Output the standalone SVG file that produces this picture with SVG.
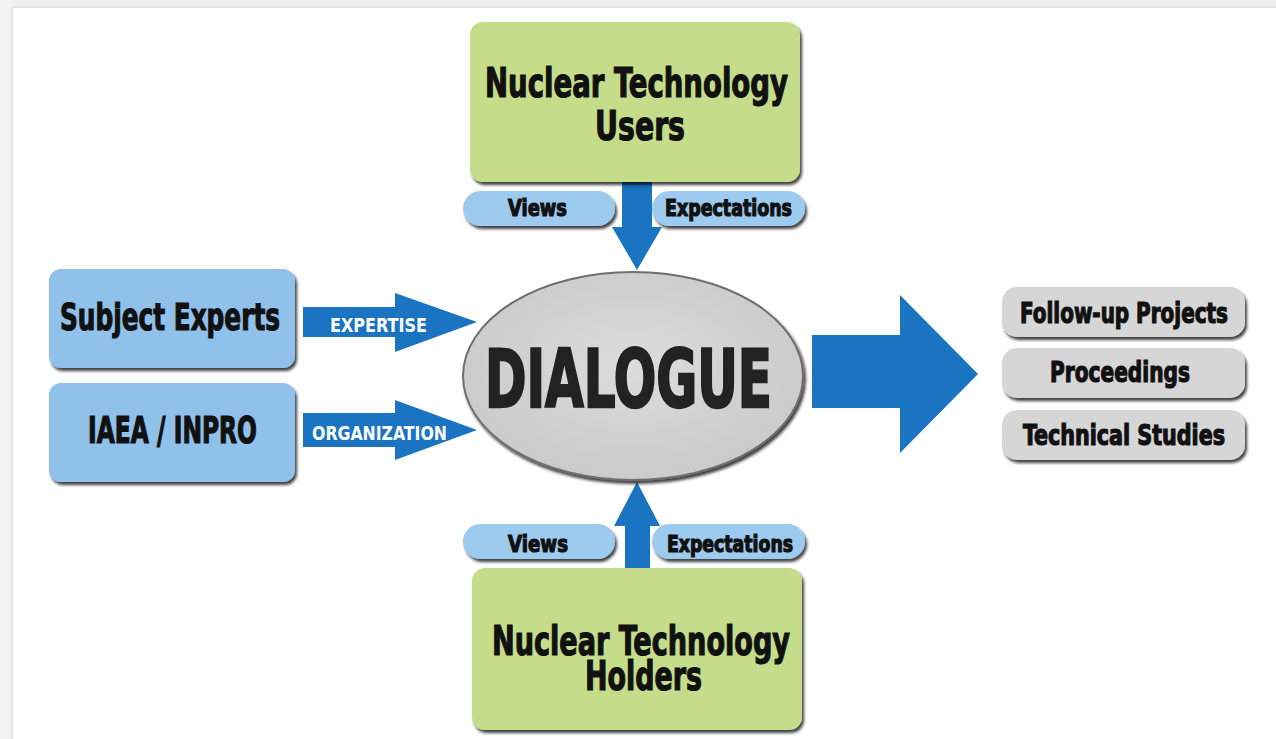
<svg xmlns="http://www.w3.org/2000/svg" width="1276" height="739" viewBox="0 0 1276 739">
  <defs>
    <filter id="shadow" x="-10%" y="-10%" width="125%" height="130%">
      <feGaussianBlur in="SourceAlpha" stdDeviation="1.6"/>
      <feOffset dx="2" dy="3" result="b"/>
      <feComponentTransfer><feFuncA type="linear" slope="0.75"/></feComponentTransfer>
      <feMerge><feMergeNode/><feMergeNode in="SourceGraphic"/></feMerge>
    </filter>
    <radialGradient id="ellFill" cx="50%" cy="45%" r="60%">
      <stop offset="0" stop-color="#dcdcdc"/>
      <stop offset="1" stop-color="#c9c9c9"/>
    </radialGradient>
  </defs>
  <style>
    /* tall condensed lettering: narrow font stretched vertically by 1.45 */
    .t { font-family: 'DejaVu Sans Condensed', 'DejaVu Sans', sans-serif; font-weight: bold; font-stretch: condensed; fill: #111; stroke: #111; stroke-width: 0.8; }
    .w { font-family: 'DejaVu Sans Condensed', 'DejaVu Sans', sans-serif; font-weight: bold; font-stretch: condensed; fill: #fff; }
    .big { font-size: 27.6px; }
    .mid { font-size: 25.5px; }
    .sm { font-size: 19.3px; }
    .xs { font-size: 15.9px; }
    .green { fill: #c5dd8b; }
    .blue { fill: #8fc1ea; }
    .pill { fill: #9dcbef; }
    .gray { fill: #d6d6d6; }
    .arrow { fill: #1a74c1; }
  </style>

  <!-- page frame -->
  <rect x="0" y="0" width="1276" height="739" fill="#ffffff"/>
  <rect x="0" y="0" width="1276" height="8" fill="#f0f0f0"/>
  <rect x="0" y="0" width="13" height="739" fill="#f3f3f3"/>
  <line x1="13" y1="7" x2="1276" y2="7" stroke="#e4e4e4" stroke-width="2"/>
  <line x1="12" y1="7" x2="12" y2="739" stroke="#e4e4e4" stroke-width="2"/>

  <!-- connectors -->
  <g id="connectors">
    <path class="arrow" d="M622,182 L652,182 L652,227 L662,227 L637,270 L612,227 L622,227 Z"/>
    <path class="arrow" d="M625,570 L650,570 L650,526 L660,526 L637,482 L614,526 L625,526 Z"/>
    <path class="arrow" d="M303,307 L395,307 L395,293 L477,322 L395,352 L395,337 L303,337 Z"/>
    <path class="arrow" d="M303,413 L395,413 L395,400 L477,430 L395,460 L395,447 L303,447 Z"/>
    <path class="arrow" d="M812,335 L900,335 L900,295 L978,374 L900,453 L900,408 L812,408 Z"/>
    <text class="w" transform="translate(330,332) scale(1,1.45)" font-size="13.8" textLength="97" lengthAdjust="spacingAndGlyphs">EXPERTISE</text>
    <text class="w" transform="translate(312,440) scale(1,1.45)" font-size="13.8" textLength="135" lengthAdjust="spacingAndGlyphs">ORGANIZATION</text>
  </g>

  <!-- labels on the vertical connectors -->
  <g id="users-views">
    <rect class="pill" x="463" y="191" width="152" height="35" rx="17.5" filter="url(#shadow)"/>
    <text class="t xs" transform="translate(508,216) scale(1,1.45)" textLength="59" lengthAdjust="spacingAndGlyphs">Views</text>
  </g>
  <g id="users-expectations">
    <rect class="pill" x="652" y="191" width="153" height="35" rx="17.5" filter="url(#shadow)"/>
    <text class="t xs" transform="translate(665,216) scale(1,1.45)" textLength="127" lengthAdjust="spacingAndGlyphs">Expectations</text>
  </g>
  <g id="holders-views">
    <rect class="pill" x="463" y="524" width="152" height="35" rx="17.5" filter="url(#shadow)"/>
    <text class="t xs" transform="translate(508,552) scale(1,1.45)" textLength="60" lengthAdjust="spacingAndGlyphs">Views</text>
  </g>
  <g id="holders-expectations">
    <rect class="pill" x="652" y="524" width="153" height="35" rx="17.5" filter="url(#shadow)"/>
    <text class="t xs" transform="translate(667,552) scale(1,1.45)" textLength="126" lengthAdjust="spacingAndGlyphs">Expectations</text>
  </g>

  <!-- nodes -->
  <g id="users">
    <rect class="green" x="470" y="22" width="330" height="160" rx="13" filter="url(#shadow)"/>
    <text class="t big" transform="translate(485,97) scale(1,1.45)" textLength="303" lengthAdjust="spacingAndGlyphs">Nuclear Technology</text>
    <text class="t big" transform="translate(595,140) scale(1,1.45)" textLength="90" lengthAdjust="spacingAndGlyphs">Users</text>
  </g>

  <g id="holders">
    <rect class="green" x="472" y="568" width="330" height="162" rx="13" filter="url(#shadow)"/>
    <text class="t big" transform="translate(492,655) scale(1,1.45)" textLength="298" lengthAdjust="spacingAndGlyphs">Nuclear Technology</text>
    <text class="t big" transform="translate(585,690) scale(1,1.45)" textLength="117" lengthAdjust="spacingAndGlyphs">Holders</text>
  </g>

  <g id="subject-experts">
    <rect class="blue" x="49" y="269" width="246" height="99" rx="12" filter="url(#shadow)"/>
    <text class="t mid" transform="translate(60,330) scale(1,1.45)" textLength="220" lengthAdjust="spacingAndGlyphs">Subject Experts</text>
  </g>

  <g id="iaea-inpro">
    <rect class="blue" x="49" y="383" width="246" height="99" rx="12" filter="url(#shadow)"/>
    <text class="t mid" transform="translate(88,443) scale(1,1.45)" textLength="169" lengthAdjust="spacingAndGlyphs">IAEA / INPRO</text>
  </g>

  <g id="dialogue">
    <ellipse cx="633" cy="376" rx="170" ry="104" fill="url(#ellFill)" stroke="#6e6e6e" stroke-width="2" filter="url(#shadow)"/>
    <text transform="translate(485,407) scale(1,1.45)" font-size="55.2" textLength="287" lengthAdjust="spacingAndGlyphs" font-family="'DejaVu Sans Condensed', 'DejaVu Sans', sans-serif" font-weight="bold" font-stretch="condensed" fill="#222" stroke="#222" stroke-width="1.6">DIALOGUE</text>
  </g>

  <g id="follow-up-projects">
    <rect class="gray" x="1002" y="287" width="243" height="50" rx="15" filter="url(#shadow)"/>
    <text class="t sm" transform="translate(1020,323) scale(1,1.45)" textLength="208" lengthAdjust="spacingAndGlyphs">Follow-up Projects</text>
  </g>
  <g id="proceedings">
    <rect class="gray" x="1002" y="348" width="243" height="50" rx="15" filter="url(#shadow)"/>
    <text class="t sm" transform="translate(1050,382) scale(1,1.45)" textLength="140" lengthAdjust="spacingAndGlyphs">Proceedings</text>
  </g>
  <g id="technical-studies">
    <rect class="gray" x="1002" y="410" width="243" height="50" rx="15" filter="url(#shadow)"/>
    <text class="t sm" transform="translate(1023,445) scale(1,1.45)" textLength="202" lengthAdjust="spacingAndGlyphs">Technical Studies</text>
  </g>
</svg>
